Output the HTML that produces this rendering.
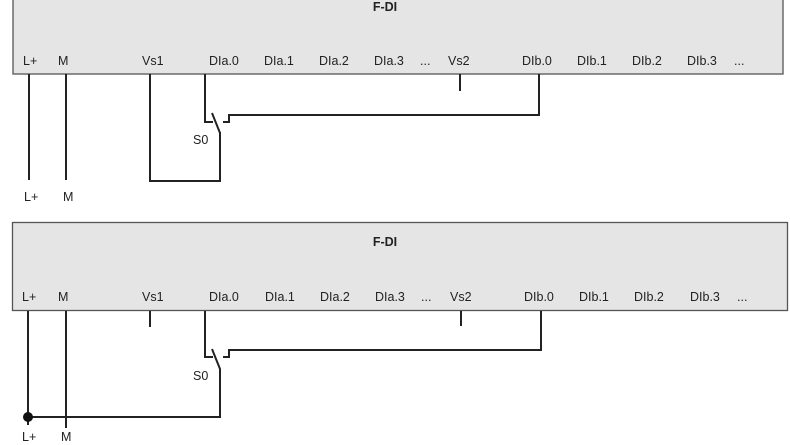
<!DOCTYPE html>
<html><head><style>
body{margin:0;background:#fff;}
svg{display:block;}
text{font-family:"Liberation Sans",sans-serif;font-size:12.5px;fill:#222;}
.b{font-weight:bold;}
</style></head><body>
<svg width="790" height="445" viewBox="0 0 790 445">
<rect x="13" y="-2" width="770" height="76" fill="#e5e5e5" stroke="#555" stroke-width="1.3"/>
<rect x="12.5" y="222.5" width="775" height="88" fill="#e5e5e5" stroke="#555" stroke-width="1.3"/>
<g text-anchor="middle">
<text x="385" y="11" class="b">F-DI</text>
<text x="385" y="246" class="b">F-DI</text>
</g>
<g>
<text x="23" y="65">L+</text><text x="58" y="65">M</text><text x="142" y="65">Vs1</text>
<text x="209" y="65">DIa.0</text><text x="264" y="65">DIa.1</text><text x="319" y="65">DIa.2</text><text x="374" y="65">DIa.3</text>
<text x="420" y="65">...</text><text x="448" y="65">Vs2</text><text x="522" y="65">DIb.0</text><text x="577" y="65">DIb.1</text>
<text x="632" y="65">DIb.2</text><text x="687" y="65">DIb.3</text><text x="734" y="65">...</text>
<text x="193" y="144">S0</text><text x="24" y="201">L+</text><text x="63" y="201">M</text>
<text x="22" y="301">L+</text><text x="58" y="301">M</text><text x="142" y="301">Vs1</text>
<text x="209" y="301">DIa.0</text><text x="265" y="301">DIa.1</text><text x="320" y="301">DIa.2</text><text x="375" y="301">DIa.3</text>
<text x="421" y="301">...</text><text x="450" y="301">Vs2</text><text x="524" y="301">DIb.0</text><text x="579" y="301">DIb.1</text>
<text x="634" y="301">DIb.2</text><text x="690" y="301">DIb.3</text><text x="737" y="301">...</text>
<text x="193" y="380">S0</text><text x="22" y="441">L+</text><text x="61" y="441">M</text>
</g>
<g fill="none" stroke="#222" stroke-width="2">
<path d="M29 74V180M66 74V180"/>
<path d="M150 74V181H220V132"/>
<path d="M205 74V122H213M212 113L220 133"/>
<path d="M223 122H229V115H539V74"/>
<path d="M460 74V91"/>
<path d="M28 311V425M66 311V428"/>
<path d="M150 311V327M461 311V326"/>
<path d="M205 311V357H213M212 349L220 369V417H28"/>
<path d="M223 357H229V350H541V311"/>
</g>
<circle cx="28" cy="417" r="5" fill="#111"/>
</svg>
</body></html>
